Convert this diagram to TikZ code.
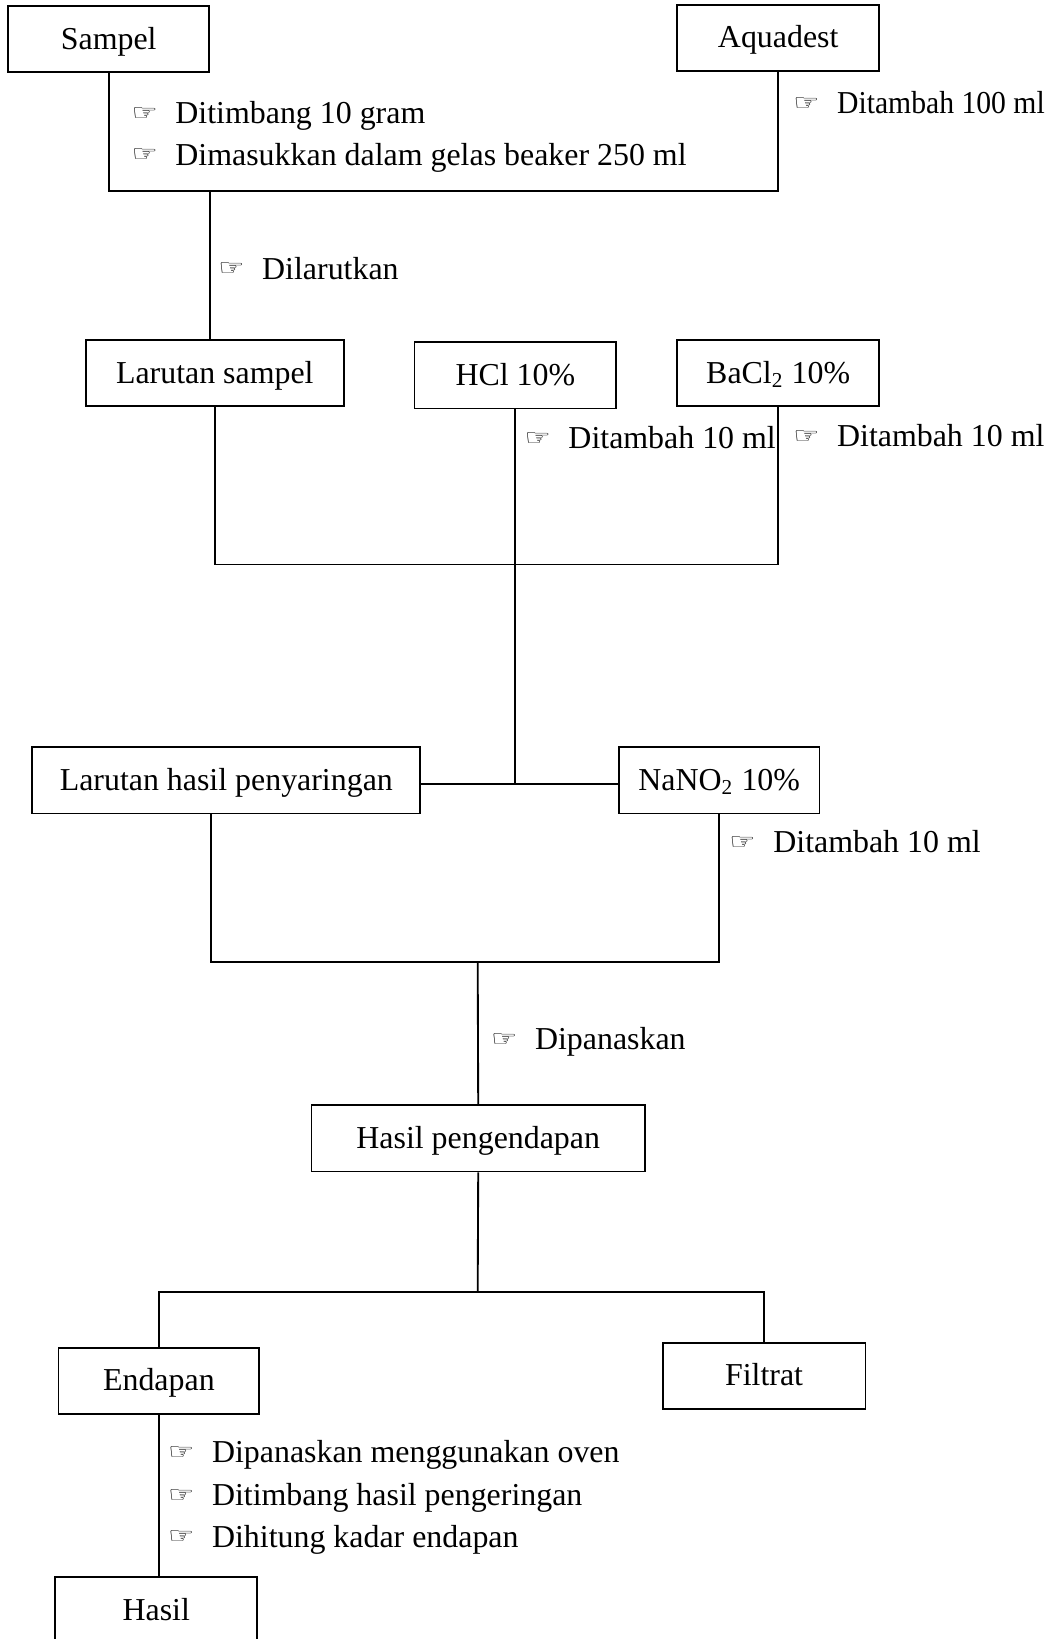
\documentclass[tikz,border=0pt]{standalone}
\usepackage{fontspec}
\setmainfont{Liberation Serif}
\newfontfamily\symfont{DejaVu Sans}
% pointing hand used in front of every step note
\newcommand\hand{\makebox[16.5pt][l]{\raisebox{1.2pt}{\scalebox{1.3}[1]{\symfont\fontsize{8.5}{10}\selectfont ☞}}}}

\begin{document}
\begin{tikzpicture}[x=0.3932pt, y=-0.3932pt,
  font=\fontsize{12}{14}\selectfont,
  line width=0.7pt,
  box/.style={draw, line width=0.7pt, minimum height=25pt, inner sep=0pt,
    text height=8.4pt, text depth=1pt, align=center},
  note/.style={anchor=base west, inner sep=0pt}]
\useasboundingbox (0,0) rectangle (1007,1568);

% ---- boxes ----
\node[box, minimum width=75.5pt]  (sampel)   at (104,37.5)    {Sampel};
\node[box, minimum width=75.9pt]  (aquadest) at (744.5,36.5)  {Aquadest};
\node[box, minimum width=97.1pt]  (lsampel)  at (205.5,357)   {Larutan sampel};
\node[box, minimum width=75.9pt]  (hcl)      at (493,359)     {HCl 10\%};
\node[box, minimum width=75.9pt]  (bacl)     at (744.5,357)   {BaCl\textsubscript{2} 10\%};
\node[box, minimum width=145.9pt] (lhp)      at (216.5,746.5) {Larutan hasil penyaringan};
\node[box, minimum width=75.5pt]  (nano)     at (688,746.5)   {NaNO\textsubscript{2} 10\%};
\node[box, minimum width=125.4pt] (hp)       at (457.5,1089)  {Hasil pengendapan};
\node[box, minimum width=75.5pt]  (endapan)  at (152,1321)    {Endapan};
\node[box, minimum width=76.3pt]  (filtrat)  at (731,1316.5)  {Filtrat};
\node[box, minimum width=75.9pt]  (hasil)    at (149.5,1540.8){Hasil};

% ---- junction points ----
\coordinate (j1) at (201,183);
\coordinate (j2) at (491,540);
\coordinate (j3) at (491,750);
\coordinate (a4) at (202,920);
\coordinate (j4) at (457,920);
\coordinate (j5) at (457,1236);

% ---- connectors ----
\draw (sampel.south) |- (aquadest.south |- j1) -- (aquadest.south);
\draw (j1) -- (j1 |- lsampel.north);

\draw (lsampel.south) |- (bacl.south |- j2) -- (bacl.south);
\draw (hcl.south) -- (hcl.south |- j3);
\draw (lhp.east |- j3) -- (nano.west |- j3);

\draw (a4 |- lhp.south) -- (a4) -- (nano.south |- a4) -- (nano.south);
\draw (j4) -- (hp.north);

\draw (hp.south) -- (j5);
\draw (endapan.north) |- (filtrat.north |- j5) -- (filtrat.north);
\draw (endapan.south) -- (endapan.south |- hasil.north);

% ---- step notes ----
\node[note] (s1) at (125,118)  {\hand Ditimbang 10 gram};
\node[note] (s2) at (125,158)  {\hand Dimasukkan dalam gelas beaker 250 ml};
\node[note] (s3) at (758,109)  {\hand\scalebox{0.93}[1]{Ditambah 100 ml}};
\node[note] (s4) at (208,267)  {\hand Dilarutkan};
\node[note] (s5) at (501,429)  {\hand Ditambah 10 ml};
\node[note] (s6) at (758,427)  {\hand Ditambah 10 ml};
\node[note] (s7) at (697,816)  {\hand Ditambah 10 ml};
\node[note] (s8) at (469,1004) {\hand Dipanaskan};
\node[note] (s9) at (160,1399) {\hand Dipanaskan menggunakan oven};
\node[note] (s10) at (160,1440) {\hand Ditimbang hasil pengeringan};
\node[note] (s11) at (160,1480) {\hand Dihitung kadar endapan};
\end{tikzpicture}
\end{document}
